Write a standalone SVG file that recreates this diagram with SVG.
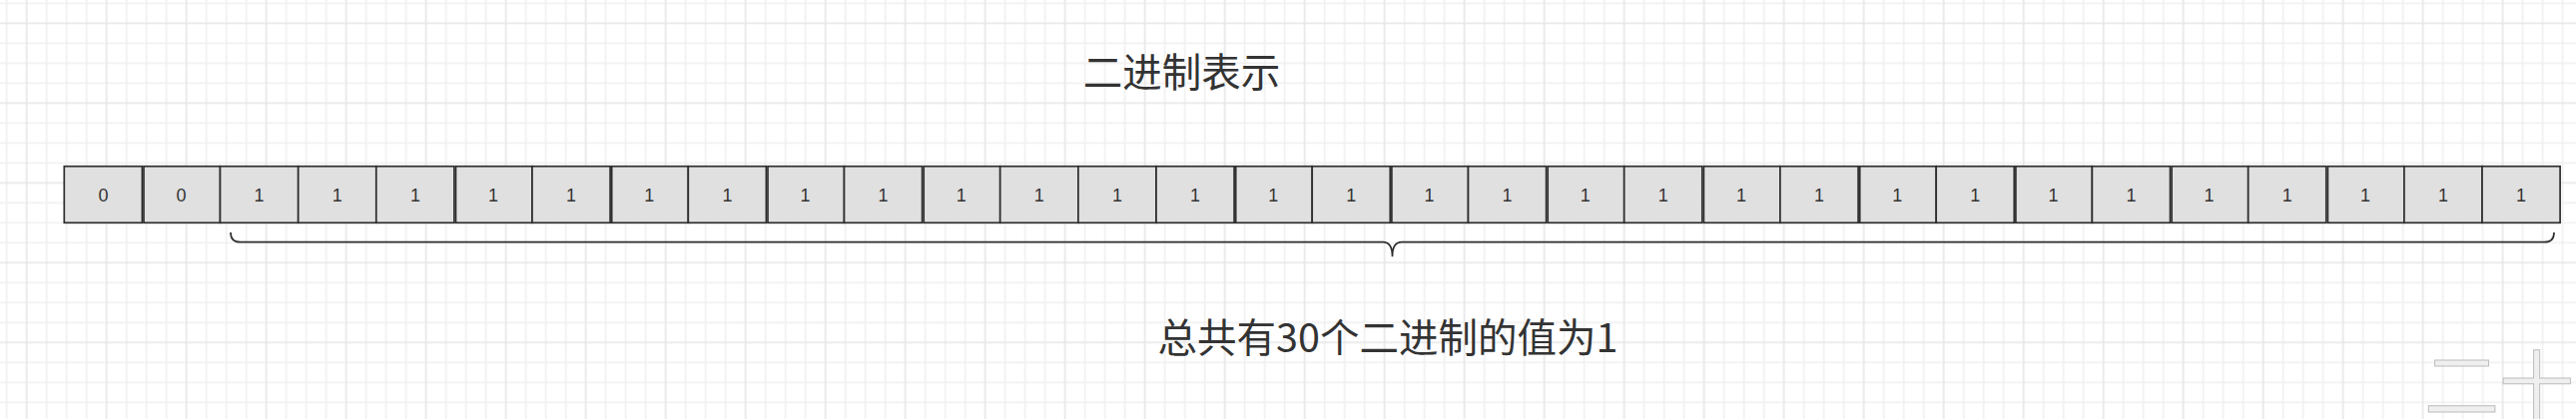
<svg xmlns="http://www.w3.org/2000/svg" width="2580" height="420" viewBox="0 0 2580 420">
<style>
.cell rect{fill:#e0e0e0;stroke:#2e2e2e;stroke-width:1.7}
.cell text{font-family:"Liberation Sans",Arial,sans-serif;font-size:18px;fill:#333;text-anchor:middle}
.label{font-family:"Noto Sans CJK SC","Liberation Sans",sans-serif;font-size:39.5px;fill:#333;text-anchor:middle}
.brace{fill:none;stroke:#2e2e2e;stroke-width:1.7}
.wm{font-family:"Noto Sans CJK SC",sans-serif;font-size:75px;fill:#efefef;stroke:#bdbdbd;stroke-width:1}
</style>
<defs>
<pattern id="grid" patternUnits="userSpaceOnUse" x="-23.33" y="-26.67" width="80" height="80">
<path d="M10 0V80M30 0V80M70 0V80M0 10H80M0 30H80M0 70H80" stroke="#f0f0f0" stroke-width="1.6" fill="none"/>
<path d="M50 0V80M0 50H80" stroke="#e6e6e6" stroke-width="1.6" fill="none"/>
</pattern>
</defs>
<rect width="2580" height="420" fill="#ffffff"/>
<rect width="2580" height="420" fill="url(#grid)"/>
<g id="watermark"><text class="wm" x="2428" y="414">二十</text></g>
<g id="title"><text class="label" x="1183.5" y="86.7">二进制表示</text></g>
<g id="cells">
<g id="cell-00" class="cell"><rect x="64.3" y="166.7" width="78.1" height="56.6"/><text x="103.4" y="202">0</text></g>
<g id="cell-01" class="cell"><rect x="144.0" y="166.7" width="76.5" height="56.6"/><text x="181.5" y="202">0</text></g>
<g id="cell-02" class="cell"><rect x="220.5" y="166.7" width="78.2" height="56.6"/><text x="259.6" y="202">1</text></g>
<g id="cell-03" class="cell"><rect x="298.7" y="166.7" width="78.1" height="56.6"/><text x="337.8" y="202">1</text></g>
<g id="cell-04" class="cell"><rect x="376.8" y="166.7" width="78.1" height="56.6"/><text x="415.9" y="202">1</text></g>
<g id="cell-05" class="cell"><rect x="456.5" y="166.7" width="76.5" height="56.6"/><text x="494.0" y="202">1</text></g>
<g id="cell-06" class="cell"><rect x="533.0" y="166.7" width="78.1" height="56.6"/><text x="572.1" y="202">1</text></g>
<g id="cell-07" class="cell"><rect x="612.7" y="166.7" width="76.6" height="56.6"/><text x="650.2" y="202">1</text></g>
<g id="cell-08" class="cell"><rect x="689.3" y="166.7" width="78.1" height="56.6"/><text x="728.4" y="202">1</text></g>
<g id="cell-09" class="cell"><rect x="769.0" y="166.7" width="76.5" height="56.6"/><text x="806.5" y="202">1</text></g>
<g id="cell-10" class="cell"><rect x="845.5" y="166.7" width="78.1" height="56.6"/><text x="884.6" y="202">1</text></g>
<g id="cell-11" class="cell"><rect x="925.2" y="166.7" width="76.5" height="56.6"/><text x="962.7" y="202">1</text></g>
<g id="cell-12" class="cell"><rect x="1001.7" y="166.7" width="78.2" height="56.6"/><text x="1040.8" y="202">1</text></g>
<g id="cell-13" class="cell"><rect x="1079.9" y="166.7" width="78.1" height="56.6"/><text x="1119.0" y="202">1</text></g>
<g id="cell-14" class="cell"><rect x="1158.0" y="166.7" width="78.1" height="56.6"/><text x="1197.1" y="202">1</text></g>
<g id="cell-15" class="cell"><rect x="1237.7" y="166.7" width="76.5" height="56.6"/><text x="1275.2" y="202">1</text></g>
<g id="cell-16" class="cell"><rect x="1314.2" y="166.7" width="78.1" height="56.6"/><text x="1353.3" y="202">1</text></g>
<g id="cell-17" class="cell"><rect x="1393.9" y="166.7" width="76.6" height="56.6"/><text x="1431.4" y="202">1</text></g>
<g id="cell-18" class="cell"><rect x="1470.5" y="166.7" width="78.1" height="56.6"/><text x="1509.6" y="202">1</text></g>
<g id="cell-19" class="cell"><rect x="1550.2" y="166.7" width="76.5" height="56.6"/><text x="1587.7" y="202">1</text></g>
<g id="cell-20" class="cell"><rect x="1626.7" y="166.7" width="78.1" height="56.6"/><text x="1665.8" y="202">1</text></g>
<g id="cell-21" class="cell"><rect x="1706.4" y="166.7" width="76.5" height="56.6"/><text x="1743.9" y="202">1</text></g>
<g id="cell-22" class="cell"><rect x="1782.9" y="166.7" width="78.2" height="56.6"/><text x="1822.0" y="202">1</text></g>
<g id="cell-23" class="cell"><rect x="1862.7" y="166.7" width="76.5" height="56.6"/><text x="1900.2" y="202">1</text></g>
<g id="cell-24" class="cell"><rect x="1939.2" y="166.7" width="78.1" height="56.6"/><text x="1978.3" y="202">1</text></g>
<g id="cell-25" class="cell"><rect x="2018.9" y="166.7" width="76.5" height="56.6"/><text x="2056.4" y="202">1</text></g>
<g id="cell-26" class="cell"><rect x="2095.4" y="166.7" width="78.1" height="56.6"/><text x="2134.5" y="202">1</text></g>
<g id="cell-27" class="cell"><rect x="2175.1" y="166.7" width="76.6" height="56.6"/><text x="2212.6" y="202">1</text></g>
<g id="cell-28" class="cell"><rect x="2251.7" y="166.7" width="78.1" height="56.6"/><text x="2290.8" y="202">1</text></g>
<g id="cell-29" class="cell"><rect x="2331.4" y="166.7" width="76.5" height="56.6"/><text x="2368.9" y="202">1</text></g>
<g id="cell-30" class="cell"><rect x="2407.9" y="166.7" width="78.1" height="56.6"/><text x="2447.0" y="202">1</text></g>
<g id="cell-31" class="cell"><rect x="2486.0" y="166.7" width="78.1" height="56.6"/><text x="2525.1" y="202">1</text></g>
</g>
<g id="connectors">
<path id="brace" class="brace" d="M231 233Q231 242.7 240.7 242.7L1385 242.7Q1394.5 242.7 1394.5 257.3Q1394.5 242.7 1404 242.7L2548.3 242.7Q2558 242.7 2558 233"/>
</g>
<g id="caption"><text class="label" x="1390" y="353">总共有30个二进制的值为1</text></g>
</svg>
